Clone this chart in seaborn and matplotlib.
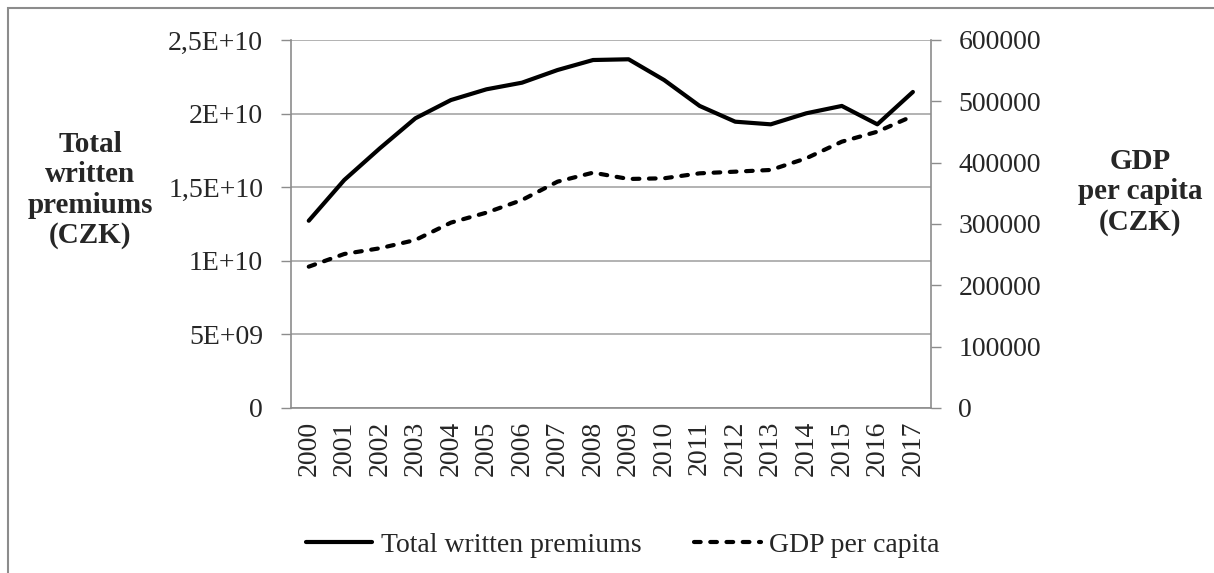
import numpy as np
import pandas as pd
import matplotlib
matplotlib.use("Agg")
import matplotlib.pyplot as plt
from matplotlib.lines import Line2D
from matplotlib.patches import Rectangle
import seaborn as sns

# Data
years = ["2000", "2001", "2002", "2003", "2004", "2005", "2006", "2007", "2008",
         "2009", "2010", "2011", "2012", "2013", "2014", "2015", "2016", "2017"]
premiums = [12.72e9, 15.49e9, 17.64e9, 19.68e9, 20.92e9, 21.65e9, 22.10e9, 22.96e9, 23.64e9,
            23.69e9, 22.28e9, 20.52e9, 19.45e9, 19.27e9, 20.02e9, 20.52e9, 19.27e9, 21.47e9]
gdp = [230400, 251100, 260400, 273900, 302200, 318500, 339100, 369000, 383700,
       373400, 374500, 382600, 385300, 388100, 407100, 434200, 450500, 476100]

left_ticks = [0, 5e9, 1e10, 1.5e10, 2e10, 2.5e10]
left_labels = ["0", "5E+09", "1E+10", "1,5E+10", "2E+10", "2,5E+10"]
right_ticks = [0, 100000, 200000, 300000, 400000, 500000, 600000]
right_labels = ["0", "100000", "200000", "300000", "400000", "500000", "600000"]

df = pd.DataFrame({"idx": np.arange(len(years)), "year": years,
                   "premiums": premiums, "gdp": gdp})

sns.set_style("white")
plt.rcParams["font.family"] = ["Liberation Serif", "DejaVu Serif"]

fig = plt.figure(figsize=(12.14, 5.73), dpi=100)
ax = fig.add_axes([0.2397, 0.2880, 0.5269, 0.6422])
ax2 = ax.twinx()

grid_c = "#a6a6a6"
spine_c = "#8c8c8c"
fs = 20
lw = 3.0
dash = (0, (1.6, 2.3))

sns.lineplot(data=df, x="idx", y="premiums", ax=ax, color="black", linewidth=lw,
             legend=False)
sns.lineplot(data=df, x="idx", y="gdp", ax=ax2, color="black", linewidth=lw,
             legend=False)
ax2.lines[0].set_linestyle(dash)
ax2.lines[0].set_dash_capstyle("round")

# left axis
ax.set_xlim(-0.5, len(years) - 0.5)
ax.set_ylim(0, 2.5e10)
ax.set_yticks(left_ticks)
ax.set_yticklabels(left_labels)
ax.yaxis.grid(True, color=grid_c, linewidth=1.2)
ax.set_axisbelow(True)
ax.tick_params(axis="y", length=7, width=1, color=spine_c, pad=13, labelsize=fs)

# x axis: labels at centers, tick marks at category borders
ax.set_xticks(np.arange(len(years)))
ax.set_xticklabels(years, rotation=90)
ax.set_xticks(np.arange(len(years) + 1) - 0.5, minor=True)
ax.tick_params(axis="x", which="major", length=0, pad=9, labelsize=fs)
ax.tick_params(axis="x", which="minor", length=7, width=1, color=spine_c)
ax.set_xlabel("")

# right axis
ax2.set_ylim(0, 600000)
ax2.set_yticks(right_ticks)
ax2.set_yticklabels(right_labels)
ax2.tick_params(axis="y", length=7, width=1, color=spine_c, pad=13, labelsize=fs)

for a in (ax, ax2):
    a.spines["top"].set_visible(False)
    for s in ("left", "right", "bottom"):
        a.spines[s].set_color(spine_c)
        a.spines[s].set_linewidth(1.2)
ax.spines["right"].set_visible(False)
ax2.spines["left"].set_visible(False)
ax2.spines["bottom"].set_visible(False)

ax.set_ylabel("Total\nwritten\npremiums\n(CZK)", rotation=0, fontsize=21,
              fontweight="bold", ha="center", va="center", linespacing=1.15)
ax.yaxis.set_label_coords(-0.314, 0.592)
ax2.set_ylabel("GDP\nper capita\n(CZK)", rotation=0, fontsize=21,
               fontweight="bold", ha="center", va="center", linespacing=1.15)
ax2.yaxis.set_label_coords(1.327, 0.587)

handles = [Line2D([], [], color="black", linewidth=lw),
           Line2D([], [], color="black", linewidth=lw, linestyle=dash,
                  dash_capstyle="round")]
fig.legend(handles, ["Total written premiums", "GDP per capita"], loc="center",
           bbox_to_anchor=(0.513, 0.049), ncol=2, frameon=False, fontsize=fs,
           handlelength=2.4, handletextpad=0.3, columnspacing=1.9)

# outer chart border
fig.patches.append(Rectangle((8 / 1214, -0.05), 1.2, 1 - 8 / 573 + 0.05,
                             transform=fig.transFigure, fill=False,
                             edgecolor=spine_c, linewidth=1.5))

fig.savefig("out.png", dpi=100)
